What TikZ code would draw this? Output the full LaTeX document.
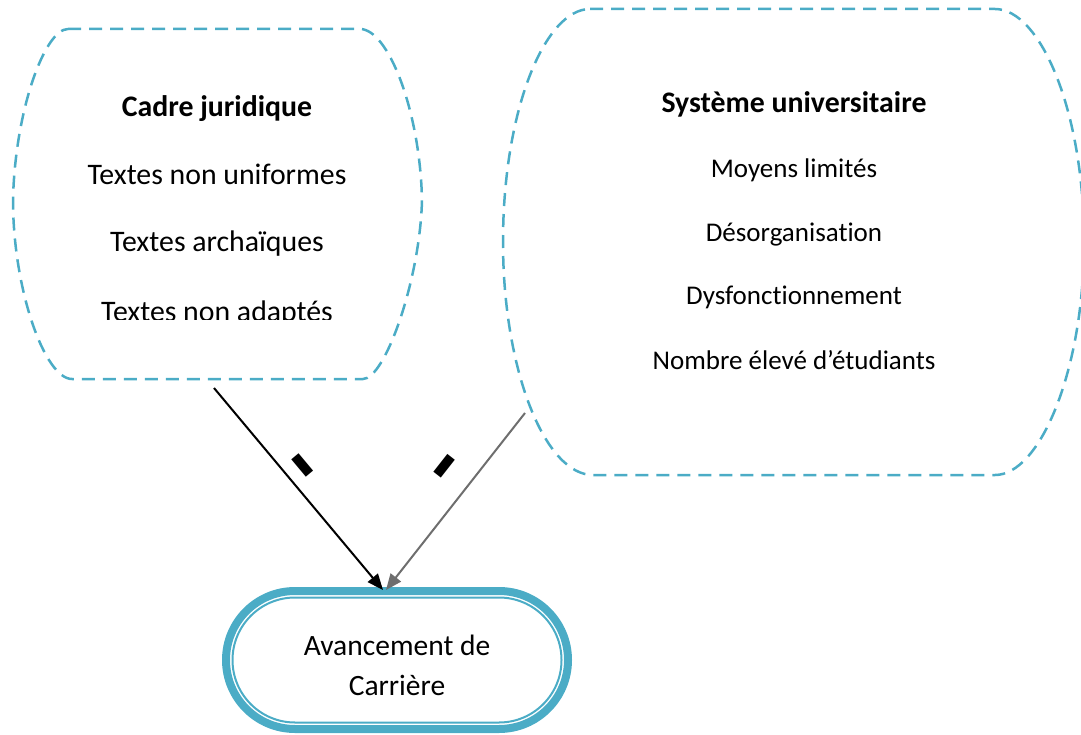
\documentclass[tikz,border=0pt]{standalone}
\usepackage{fontspec}
\setmainfont[Ligatures=NoCommon]{Carlito}
\usetikzlibrary{arrows.meta,calc,positioning}
\definecolor{boxblue}{HTML}{4BACC6}
\definecolor{linegray}{HTML}{6E6E6E}

\begin{document}
\begin{tikzpicture}[x=1pt,y=-1pt,
    dashbox/.style={draw=boxblue, line width=2.5pt, dash pattern=on 13pt off 8pt},
    head/.style={anchor=base, font=\fontsize{29.8}{30}\selectfont\bfseries},
    item/.style={anchor=base, font=\fontsize{#1}{#1}\selectfont},
    item/.default=29.8,
    goal/.style={draw=boxblue, line width=8pt, rounded corners=69pt, outer sep=0pt,
      minimum width=342pt, minimum height=138pt, align=center,
      font=\fontsize{29.5}{40}\selectfont},
    link/.style={line width=2pt, -{Triangle[length=16pt,width=13pt]}},
    minus/.style={sloped, inner sep=0pt, font=\fontsize{92}{92}\selectfont\bfseries}]
    \useasboundingbox (0,0) rectangle (1081,735);

    % cadre juridique
    \draw[dashbox] (68,29) -- (360,29) .. controls (388,29) and (420,110) .. (422,200)
      .. controls (420,280) and (385,379) .. (363,379) -- (72,379)
      .. controls (45,379) and (13,290) .. (13,200)
      .. controls (15,110) and (45,29) .. cycle;
    \node[head] (cadre) at (217,117) {Cadre juridique};
    \node[item] (jur1) at (217,185) {Textes non uniformes};
    \node[item] (jur2) at (217,252) {Textes archaïques};
    \begin{scope}
      \clip (0,0) rectangle (1081,319.5);
      \node[item] (jur3) at (217,321) {Textes non adaptés};
    \end{scope}

    % systeme universitaire
    \draw[dashbox] (590,9) -- (995,9) .. controls (1040,9) and (1084,110) .. (1084,242)
      .. controls (1084,370) and (1040,475) .. (995,475) -- (593,475)
      .. controls (545,475) and (503,370) .. (503,242)
      .. controls (503,110) and (545,9) .. cycle;
    \node[head] (systeme) at (794,113) {Système universitaire};
    \node[item=27] (uni1) at (794,178) {Moyens limités};
    \node[item=27] (uni2) at (794,242) {Désorganisation};
    \node[item=27] (uni3) at (794,305) {Dysfonctionnement};
    \node[item=27] (uni4) at (794,369) {Nombre élevé d’étudiants};

    % avancement
    \node[goal] (carriere) at (397,660) {\rule{0pt}{31pt}Avancement de\\Carrière};
    \draw[boxblue, line width=2pt, rounded corners=62.5pt]
      ($(carriere.south west)+(6.5,-6.5)$) rectangle ($(carriere.north east)+(-6.5,6.5)$);

    \coordinate (jurOut) at (214,388);
    \coordinate (uniOut) at (525,413);
    \coordinate (carIn1) at ($(carriere.north)+(-14,-1)$);
    \coordinate (carIn2) at ($(carriere.north)+(-11,-1)$);
    \draw[link, black] (jurOut) -- node[minus, pos=.44, above=-9pt] {-} (carIn1);
    \draw[link, linegray] (uniOut) -- node[minus, pos=.405, above=3pt, text=black] {-} (carIn2);
  \end{tikzpicture}
\end{document}
